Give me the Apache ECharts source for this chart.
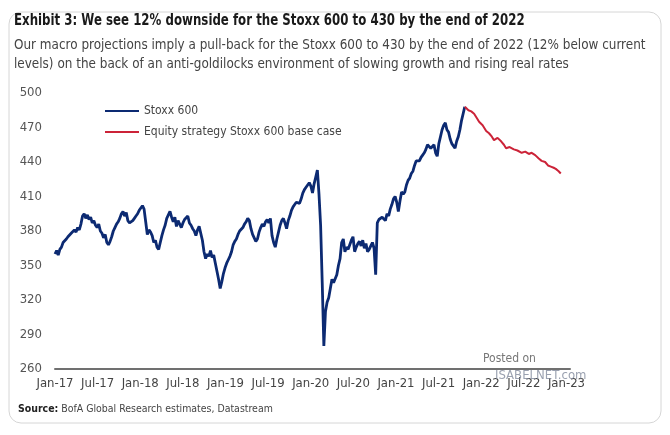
<!DOCTYPE html>
<html>
<head>
<meta charset="utf-8">
<script src="https://cdn.jsdelivr.net/npm/echarts@6/dist/echarts.min.js"></script>
<style>
html,body{margin:0;padding:0;background:#fff;}
#chart{width:670px;height:435px;}
</style>
</head>
<body>
<div id="chart"></div>
<script>
// ---- Data ----
const xTickLabels = ['Jan-17','Jul-17','Jan-18','Jul-18','Jan-19','Jul-19','Jan-20','Jul-20','Jan-21','Jul-21','Jan-22','Jul-22','Jan-23'];
const monthsPerTick = 6;
const yMin = 260, yMax = 500, yStep = 30;

// Stoxx 600, weekly readings (Jan-17 .. Nov-21 peak)
const stoxxStepMonths = 0.228;
const stoxx600 = [
  // 2017
  360,363,359,364, 366,370,369,373, 375,374,378,377,381, 379,383,381,386, 393,395,391,394, 390,392,387,389,385,
  383,386,380,378, 374,377,370,368, 371,375,380,383,386, 388,391,395,397, 393,396,389,387, 386,389,391,393,395,
  // 2018
  398,400,402,399, 388,377,381,379, 376,370,372,366,364, 370,376,381,385, 391,394,397,392, 388,392,384,389,386,
  383,387,390,391, 393,387,385,382, 380,376,381,384,383, 372,362,356,360, 358,363,357,359, 352,345,338,330,336,
  // 2019
  343,348,352,355, 358,362,368,371, 373,377,380,379,383, 386,388,391,389, 382,377,374,371, 373,379,383,386,384,
  388,390,387,391, 376,370,366,373, 379,385,389,391,387, 382,389,393,398, 401,403,405,406, 404,408,413,416,418,
  // 2020
  420,422,419,413, 421,427,433,412, 385,335,280,310,318, 322,330,338,335, 336,342,350,356, 370,373,362,366,364,
  368,372,375,362, 366,369,371,367, 372,365,369,362,364, 367,370,365,342, 387,390,389,392, 392,389,395,393,399,
  // 2021
  403,408,410,405, 397,406,414,412, 414,420,424,426,430, 432,437,441,441, 441,444,446,448, 451,455,456,452,453,
  455,448,445,456, 462,468,472,474, 468,466,460,456,454, 452,458,462,468, 476,482,488
];

// Equity strategy base case (months since Jan-17, value)
const forecastMonths = [57.7,58.2,58.6,59.0,59.4,59.7,60.2,60.7,61.1,61.5,61.8,62.3,62.8,63.2,63.5,64.0,64.6,65.1,65.7,66.2,66.7,67.1,67.6,68.1,68.5,69.0,69.4,69.8,70.2,70.5,70.9,71.2];
const forecastValues = [488,485,484,482,478,475,472,467,465,462,459,461,458,455,452,453,451,450,448,449,447,448,446,443,441,440,437,436,435,434,432,430];

const titleText = 'Exhibit 3: We see 12% downside for the Stoxx 600 to 430 by the end of 2022';
const subtitleText = 'Our macro projections imply a pull-back for the Stoxx 600 to 430 by the end of 2022 (12% below current\nlevels) on the back of an anti-goldilocks environment of slowing growth and rising real rates';
const sourceText = '{b|Source:} BofA Global Research estimates, Datastream';
const seriesNames = ['Stoxx 600', 'Equity strategy Stoxx 600 base case'];

// ---- Chart ----
const FONT = "'Liberation Sans Narrow', 'DejaVu Sans Condensed', sans-serif";
const chart = echarts.init(document.getElementById('chart'), null, {renderer: 'canvas'});

const stoxxData = stoxx600.map((v, i) => [i * stoxxStepMonths, v]);
const forecastData = forecastMonths.map((m, i) => [m, forecastValues[i]]);

chart.setOption({
  backgroundColor: '#ffffff',
  animation: false,
  textStyle: {fontFamily: FONT},
  graphic: [
    {type: 'rect', shape: {x: 9, y: 12, width: 652, height: 411, r: 12},
     style: {fill: 'none', stroke: '#d6d6d6', lineWidth: 1}, silent: true, z: -1},
    {type: 'text', x: 14, y: 13, scaleX: 0.846,
     style: {text: titleText, fontFamily: FONT, fontSize: 15.5, fontWeight: 'bold', fill: '#1a1a1a', align: 'left', verticalAlign: 'top'}},
    {type: 'text', x: 14, y: 36, scaleX: 0.955,
     style: {text: subtitleText, fontFamily: FONT, fontSize: 14, lineHeight: 19, fill: '#444', align: 'left', verticalAlign: 'top'}},
    {type: 'text', x: 18, y: 404, scaleX: 0.95,
     style: {text: sourceText, fontFamily: FONT, fontSize: 11, fill: '#444', align: 'left', verticalAlign: 'top',
       rich: {b: {fontFamily: FONT, fontSize: 11, fontWeight: 'bold', fill: '#222'}}}},
    {type: 'text', x: 483, y: 353, style: {text: 'Posted on', fontFamily: FONT, fontSize: 12, fill: '#777', align: 'left', verticalAlign: 'top'}, z: 10},
    {type: 'text', x: 495, y: 369, style: {text: 'ISABELNET.com', fontFamily: FONT, fontSize: 13, fill: 'rgba(120,130,150,0.75)', align: 'left', verticalAlign: 'top'}, z: 10}
  ],
  legend: {
    data: seriesNames,
    orient: 'vertical',
    left: 105, top: 105,
    itemWidth: 34, itemHeight: 2, itemGap: 9,
    icon: 'rect',
    padding: 0,
    textStyle: {fontFamily: FONT, fontSize: 12, color: '#444'}
  },
  grid: {left: 55, right: 100, top: 93, bottom: 66, containLabel: false},
  xAxis: {
    type: 'value', min: 0, max: 72.5, interval: monthsPerTick,
    axisLine: {show: true, lineStyle: {color: '#707070', width: 2}},
    axisTick: {show: false},
    splitLine: {show: false},
    axisLabel: {
      fontFamily: FONT, fontSize: 13, color: '#444', margin: 8,
      showMaxLabel: false,
      formatter: v => (Math.abs(v / monthsPerTick - Math.round(v / monthsPerTick)) < 1e-6 ? (xTickLabels[Math.round(v / monthsPerTick)] || '') : '')
    }
  },
  yAxis: {
    type: 'value', min: yMin, max: yMax, interval: yStep,
    axisLine: {show: false}, axisTick: {show: false}, splitLine: {show: false},
    axisLabel: {fontFamily: FONT, fontSize: 13, color: '#555', margin: 13}
  },
  series: [
    {name: seriesNames[0], type: 'line', data: stoxxData, showSymbol: false, symbol: 'none',
     lineStyle: {color: '#0c2a72', width: 2.8}, itemStyle: {color: '#0c2a72'}, z: 3},
    {name: seriesNames[1], type: 'line', data: forecastData, showSymbol: false, symbol: 'none',
     lineStyle: {color: '#cc2338', width: 2}, itemStyle: {color: '#cc2338'}, z: 4}
  ]
});
</script>
</body>
</html>
